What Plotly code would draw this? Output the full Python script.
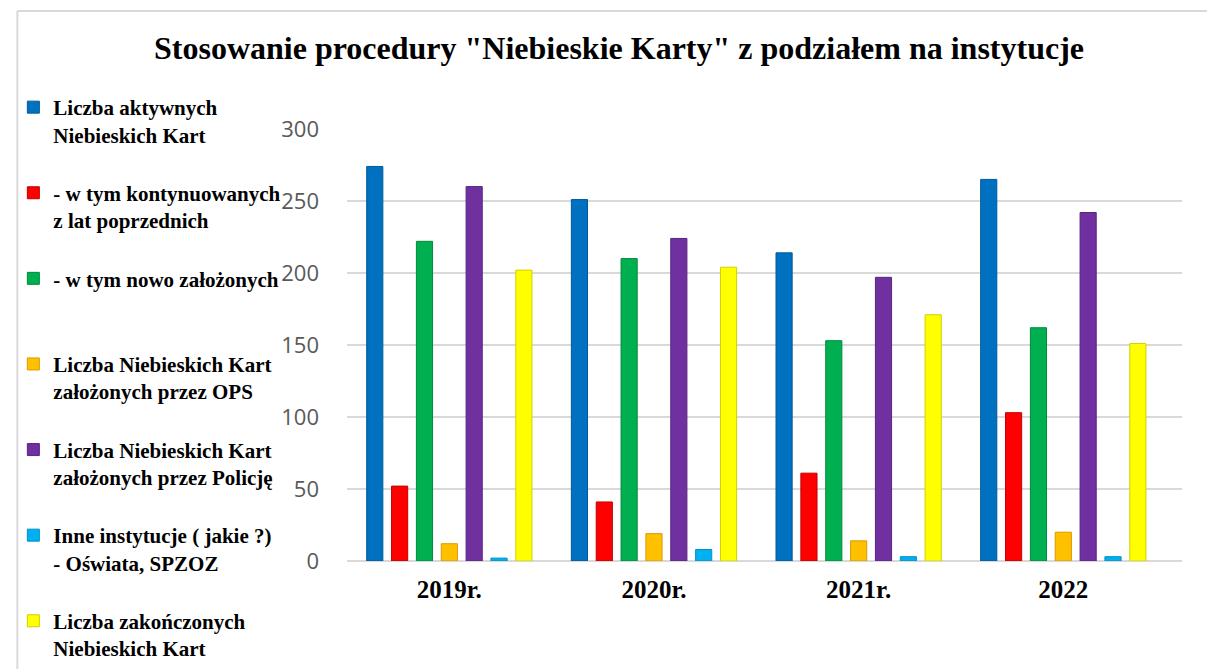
import plotly.graph_objects as go

categories = ["2019r.", "2020r.", "2021r.", "2022"]

series_names = [
    "Liczba aktywnych<br>Niebieskich Kart",
    "- w tym kontynuowanych<br>z lat poprzednich",
    "- w tym nowo założonych<br> ",
    "Liczba Niebieskich Kart<br>założonych przez OPS",
    "Liczba Niebieskich Kart<br>założonych przez Policję",
    "Inne instytucje ( jakie ?)<br>- Oświata, SPZOZ",
    "Liczba zakończonych<br>Niebieskich Kart",
]

aktywne = [274, 251, 214, 265]
kontynuowane = [52, 41, 61, 103]
nowe = [222, 210, 153, 162]
ops = [12, 19, 14, 20]
policja = [260, 224, 197, 242]
inne = [2, 8, 3, 3]
zakonczone = [202, 204, 171, 151]

series_values = [aktywne, kontynuowane, nowe, ops, policja, inne, zakonczone]

colors = ["#0070C0", "#FF0000", "#00B050", "#FFC000", "#7030A0", "#00B0F0", "#FFFF00"]
edge_colors = ["#005A9A", "#C00000", "#008A3E", "#D99A00", "#582580", "#0090C8", "#D0D000"]

y_ticks = [0, 50, 100, 150, 200, 250, 300]

fig = go.Figure()
for i, (name, vals) in enumerate(zip(series_names, series_values)):
    fig.add_trace(go.Bar(
        x=categories, y=vals, name=name,
        marker=dict(color=colors[i], line=dict(color=edge_colors[i], width=1)),
        legendgroup=f"g{i}",
    ))

# page body has an 8px margin; work in figure coordinates
OFF = 8
L, R, T, B = 341 - OFF, 1182 - OFF, 129 - OFF, 561 - OFF
W, H = 1215, 669
pw, ph = R - L, B - T

def px_x(x):
    return (x - L) / pw

def px_y(y):
    return (B - y) / ph

fig.update_layout(
    width=W, height=H,
    margin=dict(l=L, r=W - R, t=T, b=H - B, pad=0),
    paper_bgcolor="white", plot_bgcolor="white",
    barmode="group", bargap=0.15, bargroupgap=0.35,
    title=dict(
        text='Stosowanie procedury "Niebieskie Karty" z podziałem na instytucje',
        font=dict(family="Liberation Serif", size=32, color="black", weight="bold"),
        x=611 / W, xanchor="center", y=1 - 40 / H, yanchor="middle",
    ),
    legend=dict(
        x=px_x(4), y=px_y(79), xanchor="left", yanchor="top",
        font=dict(family="Liberation Serif", size=21, color="black", weight="bold"),
        valign="top", tracegroupgap=28, traceorder="grouped", indentation=-7,
        bgcolor="rgba(0,0,0,0)", itemclick=False, maxheight=669,
    ),
    xaxis=dict(
        range=[-0.5, 3.58], showgrid=False, zeroline=False, showline=False, ticks="",
        tickfont=dict(family="Liberation Serif", size=25, color="black", weight="bold"),
        ticklabelstandoff=11,
    ),
    yaxis=dict(
        range=[0, 300], tickvals=y_ticks, ticktext=[str(v) for v in y_ticks],
        showgrid=True, gridcolor="#D9D9D9", gridwidth=2,
        zeroline=True, zerolinecolor="#D9D9D9", zerolinewidth=2,
        showline=False, ticks="",
        tickfont=dict(family="Open Sans", size=22, color="#595959"),
        ticklabelstandoff=27,
    ),
    shapes=[
        dict(type="line", xref="paper", yref="paper",
             x0=px_x(1), x1=px_x(W + 5), y0=px_y(3), y1=px_y(3),
             line=dict(color="#D9D9D9", width=2)),
        dict(type="line", xref="paper", yref="paper",
             x0=px_x(1), x1=px_x(1), y0=px_y(3), y1=px_y(H + 5),
             line=dict(color="#D9D9D9", width=2)),
    ],
)

fig.write_html("out.html")
